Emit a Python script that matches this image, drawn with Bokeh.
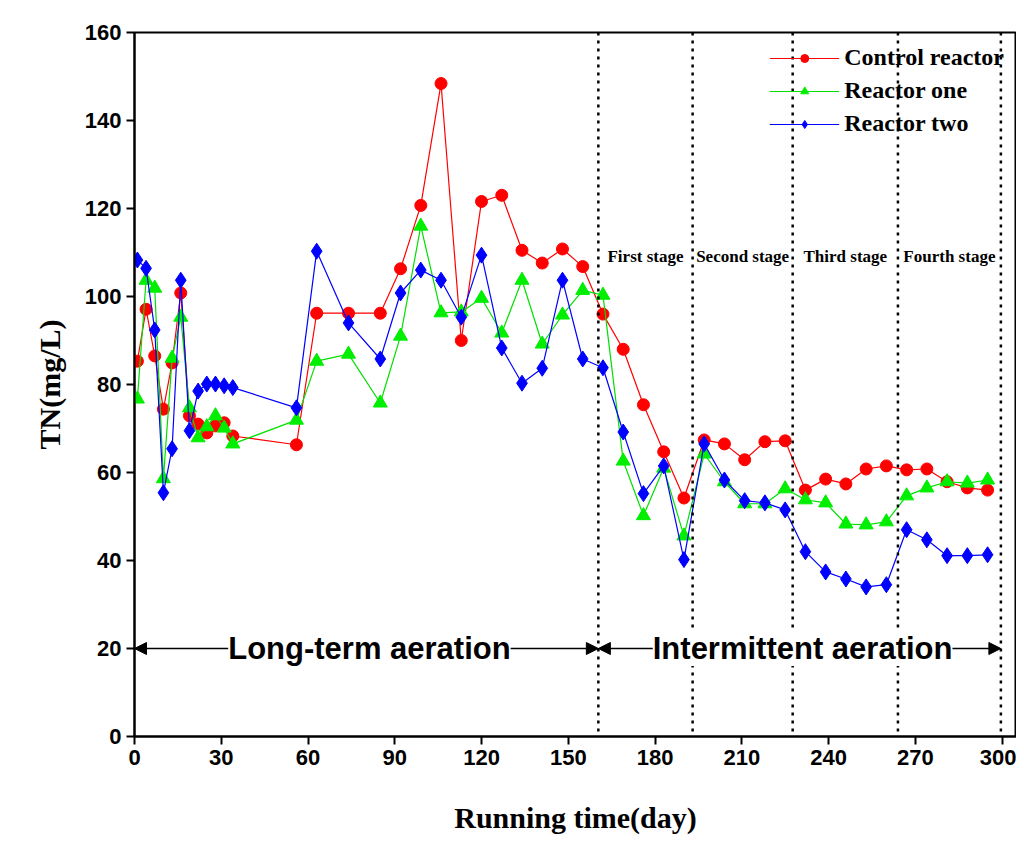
from bokeh.plotting import figure
from bokeh.models import Arrow, NormalHead, Label, Span, Legend, LegendItem
from bokeh.embed import file_html
from bokeh.resources import INLINE

days = [1, 4, 7, 10, 13, 16, 19, 22, 25, 28, 31, 34, 56, 63, 74, 85, 92, 99, 106, 113,
        120, 127, 134, 141, 148, 155, 162, 169, 176, 183, 190, 197, 204, 211, 218, 225,
        232, 239, 246, 253, 260, 267, 274, 281, 288, 295]
control = [85.3, 97.1, 86.5, 74.4, 84.9, 100.8, 72.9, 71.0, 69.0, 70.6, 71.3, 68.3, 66.3,
           96.2, 96.2, 96.2, 106.3, 120.7, 148.4, 90.0, 121.6, 123.0, 110.5, 107.6, 110.8,
           106.8, 96.0, 88.0, 75.4, 64.7, 54.2, 67.4, 66.5, 62.9, 67.0, 67.2, 56.0, 58.5,
           57.4, 60.8, 61.5, 60.6, 60.8, 57.9, 56.5, 56.0]
reactor_one = [76.7, 103.7, 101.9, 58.6, 86.0, 95.3, 74.7, 67.9, 70.4, 72.9, 70.1, 66.5,
               71.9, 85.3, 86.9, 75.8, 91.0, 116.0, 96.3, 96.5, 99.6, 91.7, 103.7, 89.2,
               95.8, 101.4, 100.3, 62.6, 50.2, 61.0, 45.6, 64.2, 57.9, 52.9, 52.9, 56.3,
               53.8, 53.1, 48.3, 48.1, 48.8, 54.7, 56.5, 57.9, 57.6, 58.3]
reactor_two = [108.3, 106.4, 92.4, 55.4, 65.4, 103.7, 69.5, 78.5, 80.1, 80.1, 79.7, 79.3,
               74.7, 110.3, 94.0, 85.8, 100.8, 106.0, 103.7, 95.3, 109.4, 88.3, 80.3, 83.7,
               103.7, 85.8, 83.8, 69.2, 55.2, 61.5, 40.2, 66.5, 58.3, 53.6, 53.1, 51.5,
               42.0, 37.4, 35.8, 34.0, 34.5, 47.0, 44.7, 41.1, 41.1, 41.3]
stage_bounds = [160.4, 193, 227.6, 264, 299.6]
stage_names = ["First stage", "Second stage", "Third stage", "Fourth stage"]
x_ticks = list(range(0, 301, 30))
y_ticks = list(range(0, 161, 20))

SERIF = "Liberation Serif"
p = figure(width=1016, height=836, x_range=(0, 305), y_range=(0, 160),
           output_backend="svg", toolbar_location=None,
           x_axis_label="Running time(day)", y_axis_label="TN(mg/L)",
           min_border_left=134, min_border_top=32, min_border_right=0, min_border_bottom=60)
p.grid.visible = False
p.outline_line_color = "black"
p.outline_line_width = 2
for ax in (p.xaxis[0], p.yaxis[0]):
    ax.axis_line_width = 2
    ax.major_tick_line_width = 2
    ax.minor_tick_line_color = None
    ax.major_tick_in = 0
    ax.major_tick_out = 8
    ax.major_label_text_font = "Liberation Sans"
    ax.major_label_text_font_style = "bold"
    ax.major_label_text_font_size = "22px"
    ax.major_label_text_color = "black"
    ax.axis_label_text_font = SERIF
    ax.axis_label_text_font_style = "bold"
    ax.axis_label_text_font_size = "30px"
    ax.axis_label_text_color = "black"
p.xaxis.ticker = x_ticks
p.yaxis.ticker = y_ticks
p.xaxis.axis_label_standoff = 33
p.yaxis.axis_label_standoff = 16

for b in stage_bounds:
    p.add_layout(Span(location=b, dimension="height", line_color="black",
                      line_dash="3 5", line_width=2.5))
for i, name in enumerate(stage_names):
    p.add_layout(Label(x=(stage_bounds[i] + stage_bounds[i + 1]) / 2, y=107,
                       text=name, text_align="center", text_font=SERIF,
                       text_font_style="bold", text_font_size="17px", text_color="black"))

for a, b, name in [(0, 160.4, "Long-term aeration"), (160.4, 299.6, "Intermittent aeration")]:
    p.add_layout(Arrow(x_start=a, y_start=20, x_end=b, y_end=20, line_width=1.5,
                       start=NormalHead(size=12, fill_color="black"),
                       end=NormalHead(size=12, fill_color="black")))
    p.add_layout(Label(x=(a + b) / 2, y=20, text=name, text_align="center",
                       text_baseline="middle", text_font="Liberation Sans",
                       text_font_style="bold", text_color="black",
                       text_font_size="31px", background_fill_color="white",
                       x_offset=3))

r1 = p.line(days, control, color="red", line_width=1.2)
m1 = p.scatter(days, control, marker="circle", size=12, color="red")
r2 = p.line(days, reactor_one, color="#00e000", line_width=1.2)
m2 = p.scatter(days, reactor_one, marker="triangle", size=14, color="#00ee00")
r3 = p.line(days, reactor_two, color="blue", line_width=1.2)
m3 = p.scatter(days, reactor_two, marker="diamond", size=16, color="blue")

legend = Legend(items=[LegendItem(label="Control reactor", renderers=[r1, m1]),
                       LegendItem(label="Reactor one", renderers=[r2, m2]),
                       LegendItem(label="Reactor two", renderers=[r3, m3])],
                location="top_right", border_line_color=None, background_fill_alpha=0,
                label_text_font=SERIF, label_text_font_style="bold",
                label_text_font_size="24px", label_text_color="black",
                glyph_width=70, spacing=6, margin=12)
p.add_layout(legend)

open("out.html", "w").write(file_html(p, INLINE))
